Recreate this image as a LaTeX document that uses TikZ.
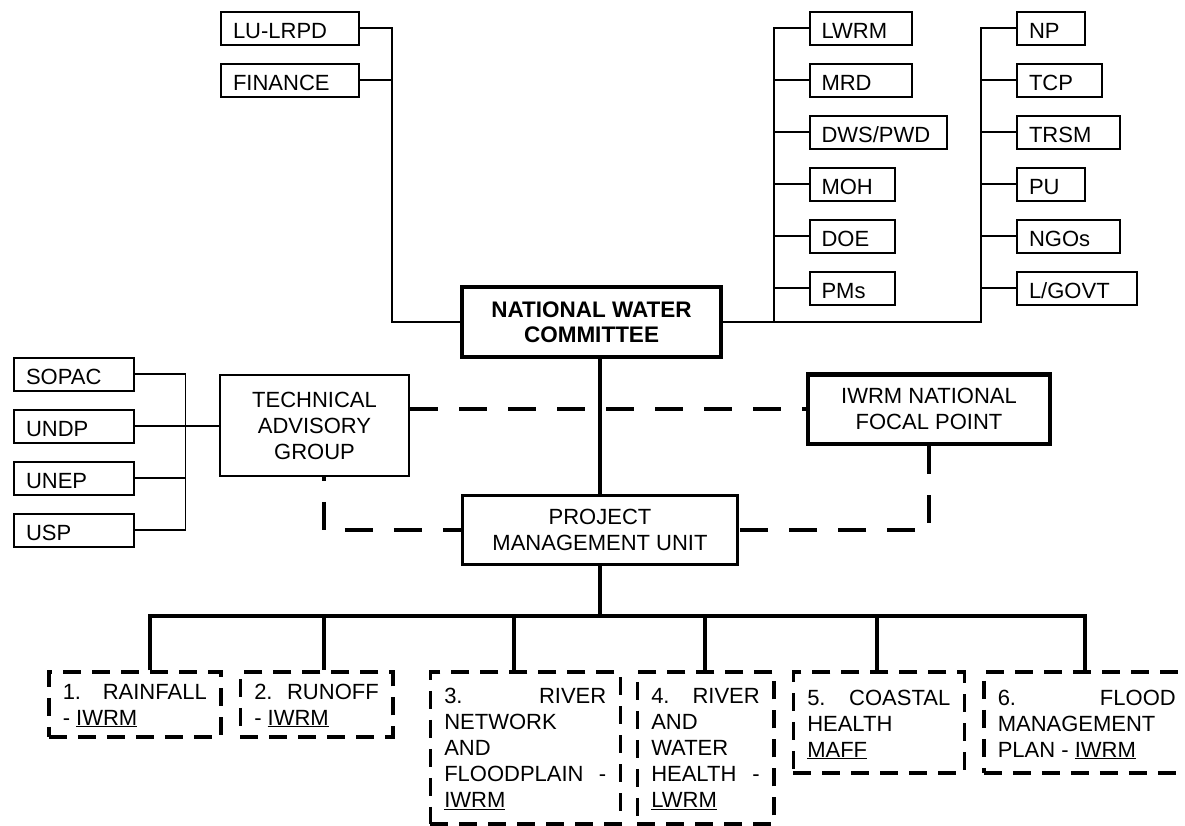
\documentclass[tikz,border=0pt]{standalone}
\usepackage{fontspec}
\setmainfont{Liberation Sans}
\newcommand\btext[4]{\parbox[c][#1][t]{#2}{\raggedright\vspace*{#3}\strut #4}}
\begin{document}
\begin{tikzpicture}[x=1pt,y=-1pt,
  every node/.style={font=\fontsize{22}{26}\selectfont},
  sbox/.style={draw, line width=2pt, minimum height=33pt, inner xsep=12pt, inner ysep=0pt,
    anchor=west, align=left, text height=20pt, text depth=0pt},
  bigbox/.style={draw, align=center, inner sep=0pt},
  dbox/.style={draw, line width=3.5pt, dash pattern=on 18pt off 11pt, inner xsep=14pt,
    inner ysep=0pt, anchor=north west},
  thinline/.style={line width=1.6pt},
  trunk/.style={line width=4.5pt},
  busline/.style={line width=4pt},
  dashline/.style={line width=4.5pt, dash pattern=on 28pt off 21pt}]
\useasboundingbox (0,0) rectangle (1185,825);
\clip (0,0) rectangle (1185,825);

% central boxes
\node[bigbox, line width=4pt, minimum width=259pt, minimum height=70pt,
  font=\bfseries\fontsize{22.5}{24.7}\selectfont] (nwc) at (591.5,322) {NATIONAL WATER\\COMMITTEE};
\node[bigbox, line width=3pt, minimum width=275pt, minimum height=69pt] (pmu) at (600,530) {PROJECT\\MANAGEMENT UNIT};
\node[bigbox, line width=4.5pt, minimum width=242pt, minimum height=69.5pt] (iwrm) at (929,409) {IWRM NATIONAL\\FOCAL POINT};
\node[bigbox, line width=2pt, minimum width=189pt, minimum height=101.5pt] (tag) at (314.5,425.7) {TECHNICAL\\ADVISORY\\GROUP};

% top-left
\node[sbox, text width=114pt] (lu) at (220,28) {LU-LRPD};
\node[sbox, text width=114pt] (fin) at (220,80) {FINANCE};

% column A
\node[sbox, text width=78.5pt] (lwrm) at (808.5,28) {LWRM};
\node[sbox, text width=78.5pt] (mrd) at (808.5,80) {MRD};
\node[sbox, text width=113pt] (dws) at (808.5,132) {DWS/PWD};
\node[sbox, text width=61pt] (moh) at (808.5,184) {MOH};
\node[sbox, text width=61pt] (doe) at (808.5,236) {DOE};
\node[sbox, text width=61pt] (pms) at (808.5,288) {PMs};

% column B
\node[sbox, text width=43.7pt] (np) at (1016,28) {NP};
\node[sbox, text width=61pt] (tcp) at (1016,80) {TCP};
\node[sbox, text width=78.5pt] (trsm) at (1016,132) {TRSM};
\node[sbox, text width=43.7pt] (pu) at (1016,184) {PU};
\node[sbox, text width=78.5pt] (ngo) at (1016,236) {NGOs};
\node[sbox, text width=96pt] (lgov) at (1016,288) {L/GOVT};

% advisory partners
\node[sbox, text width=96pt] (sopac) at (13,374) {SOPAC};
\node[sbox, text width=96pt] (undp) at (13,426) {UNDP};
\node[sbox, text width=96pt] (unep) at (13,478) {UNEP};
\node[sbox, text width=96pt] (usp) at (13,530) {USP};

% bottom components
\node[dbox] (b1) at (47,670) {\btext{65pt}{144pt}{9.3pt}{1.\hfill RAINFALL\\- \underline{IWRM}}};
\node[dbox] (b2) at (238.5,670) {\btext{65pt}{124.5pt}{9.3pt}{2.\hfill RUNOFF\\- \underline{IWRM}}};
\node[dbox] (b3) at (428.5,670) {\btext{152pt}{162pt}{13.5pt}{3.\hfill RIVER\\NETWORK\\AND\\FLOODPLAIN\hfill -\\\underline{IWRM}}};
\node[dbox] (b4) at (635.5,670) {\btext{152pt}{108.5pt}{13.5pt}{4.\hfill RIVER\\AND\\WATER\\HEALTH\hfill -\\\underline{LWRM}}};
\node[dbox] (b5) at (791.5,670) {\btext{101pt}{143pt}{15.1pt}{5.\hfill COASTAL\\HEALTH\\\underline{MAFF}}};
\node[dbox] (b6) at (982,670) {\btext{101pt}{178pt}{15.1pt}{6.\hfill FLOOD\\MANAGEMENT\\PLAN - \underline{IWRM}}};

% junction coordinates
\coordinate (jl) at (392,322);
\coordinate (ja) at (773.7,322);
\coordinate (jb) at (981,322);
\coordinate (jt) at (185.6,374);
\coordinate (tq) at (324,530);
\coordinate (busL) at (150.4,615.7);
\coordinate (busR) at (1084.6,615.7);
\coordinate (d2) at (324.2,615.7);
\coordinate (d3) at (513.6,615.7);
\coordinate (d4) at (704.6,615.7);
\coordinate (d5) at (877,615.7);

% left ministry connectors
\draw[thinline] (lu.east) -| (jl) -- (nwc.west);
\draw[thinline] (fin.east) -- (fin.east -| jl);

% right ministry connectors
\draw[thinline] (nwc.east) -- (jb) -- (jb |- np.west) -- (np.west);
\draw[thinline] (ja) -- (ja |- lwrm.west) -- (lwrm.west);
\foreach \n in {mrd,dws,moh,doe,pms} \draw[thinline] (\n.west) -- (\n.west -| ja);
\foreach \n in {tcp,trsm,pu,ngo,lgov} \draw[thinline] (\n.west) -- (\n.west -| jb);

% advisory partner connectors
\draw[thinline] (sopac.east) -- (jt) -- (jt |- usp.east) -- (usp.east);
\draw[thinline] (undp.east) -- (undp.east -| tag.west);
\draw[thinline] (unep.east) -- (unep.east -| jt);

% trunk
\draw[trunk] (pmu.north |- nwc.south) -- (pmu.north);
\draw[trunk] (pmu.south) -- (pmu.south |- busL);
\draw[busline] (busL |- b1.north) -- (busL) -- (busR) -- (busR |- b6.north);
\foreach \d/\b in {d2/b2,d3/b3,d4/b4,d5/b5} \draw[busline] (\d) -- (\d |- \b.north);

% dashed links
\draw[dashline] (tag.east |- iwrm.west) -- (iwrm.west);
\draw[dashline, dash phase=24.5pt] (tq |- tag.south) -- (tq) -- (pmu.west);
\draw[dashline] (iwrm.south) |- (pmu.east);
\end{tikzpicture}
\end{document}
